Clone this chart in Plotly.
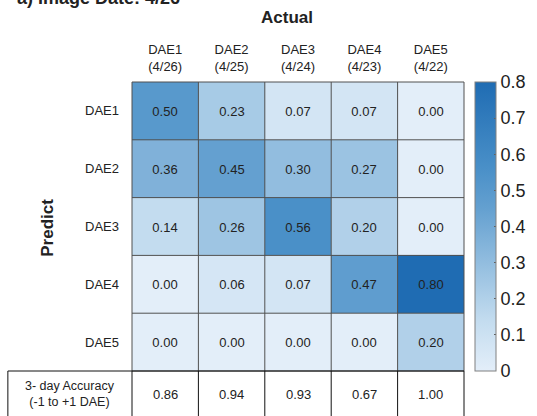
import plotly.graph_objects as go

# Confusion matrix: rows = predicted DAE class, columns = actual DAE class
predict_labels = ["DAE1", "DAE2", "DAE3", "DAE4", "DAE5"]
actual_labels = ["DAE1", "DAE2", "DAE3", "DAE4", "DAE5"]
actual_dates = ["4/26", "4/25", "4/24", "4/23", "4/22"]

row_dae1 = [0.50, 0.23, 0.07, 0.07, 0.00]
row_dae2 = [0.36, 0.45, 0.30, 0.27, 0.00]
row_dae3 = [0.14, 0.26, 0.56, 0.20, 0.00]
row_dae4 = [0.00, 0.06, 0.07, 0.47, 0.80]
row_dae5 = [0.00, 0.00, 0.00, 0.00, 0.20]

# Accuracy within +/- 1 DAE for each actual class
accuracy_3day = [0.86, 0.94, 0.93, 0.67, 1.00]

z = [row_dae1, row_dae2, row_dae3, row_dae4, row_dae5]

FONT = "Liberation Sans, Arial, sans-serif"
W, H = 537, 416
ML, MR, MT, MB = 131.5, 72.5, 82, 45
PW, PH = W - ML - MR, H - MT - MB


def px_to_paper_x(px):
    return (px - ML) / PW


def px_to_paper_y(py):
    return (H - MB - py) / PH


x_ticktext = [f"{a}<br>({d})" for a, d in zip(actual_labels, actual_dates)]

blues = [
    [0.0, "#e3eef9"],
    [0.175, "#c3dcef"],
    [0.5625, "#64a0d0"],
    [0.7, "#4a90c8"],
    [1.0, "#1f6cb3"],
]

fig = go.Figure(
    go.Heatmap(
        z=z,
        x=actual_labels,
        y=predict_labels,
        zmin=0,
        zmax=0.8,
        colorscale=blues,
        texttemplate="%{z:.2f}",
        textfont=dict(family=FONT, size=13, color="#222222"),
        hoverinfo="skip",
        colorbar=dict(
            x=px_to_paper_x(476),
            xanchor="left",
            xref="paper",
            xpad=0,
            ypad=0,
            y=0,
            yanchor="bottom",
            len=1,
            lenmode="fraction",
            thickness=21,
            thicknessmode="pixels",
            outlinecolor="#808080",
            outlinewidth=1,
            tickvals=[0, 0.1, 0.2, 0.3, 0.4, 0.5, 0.6, 0.7, 0.8],
            ticktext=["0", "0.1", "0.2", "0.3", "0.4", "0.5", "0.6", "0.7", "0.8"],
            ticks="inside",
            ticklen=2,
            tickcolor="#606060",
            tickfont=dict(family=FONT, size=18, color="#222222"),
        ),
    )
)

# Cell grid lines
shapes = []
for i in range(6):
    shapes.append(dict(type="line", xref="paper", yref="paper",
                       x0=i / 5, x1=i / 5, y0=0, y1=1,
                       line=dict(color="#505050", width=1)))
    shapes.append(dict(type="line", xref="paper", yref="paper",
                       x0=0, x1=1, y0=i / 5, y1=i / 5,
                       line=dict(color="#505050", width=1)))

# Accuracy row below the matrix
acc_left = px_to_paper_x(7)
acc_bottom = px_to_paper_y(440)
shapes.append(dict(type="line", xref="paper", yref="paper",
                   x0=acc_left, x1=1, y0=0, y1=0,
                   line=dict(color="#111111", width=1)))
shapes.append(dict(type="line", xref="paper", yref="paper",
                   x0=acc_left, x1=acc_left, y0=0, y1=acc_bottom,
                   line=dict(color="#111111", width=1)))
for i in range(6):
    shapes.append(dict(type="line", xref="paper", yref="paper",
                       x0=i / 5, x1=i / 5, y0=0, y1=acc_bottom,
                       line=dict(color="#111111", width=1)))

annotations = []
acc_y = px_to_paper_y(394)
for lab, val in zip(actual_labels, accuracy_3day):
    annotations.append(dict(x=lab, xref="x", y=acc_y, yref="paper",
                            text=f"{val:.2f}", showarrow=False,
                            xanchor="center", yanchor="middle",
                            font=dict(family=FONT, size=13, color="#222222")))
annotations.append(dict(x=px_to_paper_x(69), xref="paper", y=acc_y, yref="paper",
                        xanchor="center", yanchor="middle",
                        text="3- day Accuracy<br>(-1 to +1 DAE)", showarrow=False,
                        font=dict(family=FONT, size=12.5, color="#222222")))

annotations.append(dict(x=px_to_paper_x(287), xref="paper", y=px_to_paper_y(18), yref="paper",
                        xanchor="center", yanchor="middle",
                        text="<b>Actual</b>", showarrow=False,
                        font=dict(family=FONT, size=17, color="#222222")))
annotations.append(dict(x=px_to_paper_x(46), xref="paper", y=px_to_paper_y(228), yref="paper",
                        xanchor="center", yanchor="middle",
                        text="<b>Predict</b>", showarrow=False, textangle=-90,
                        font=dict(family=FONT, size=17, color="#222222")))
annotations.append(dict(x=px_to_paper_x(14), xref="paper", xanchor="left",
                        y=px_to_paper_y(-2), yref="paper", yanchor="middle",
                        text="<b>a) Image Date: 4/26</b>", showarrow=False,
                        font=dict(family=FONT, size=18, color="#222222")))

fig.update_layout(
    width=W,
    height=H,
    margin=dict(l=ML, r=MR, t=MT, b=MB, pad=0, autoexpand=False),
    paper_bgcolor="white",
    plot_bgcolor="white",
    shapes=shapes,
    annotations=annotations,
    xaxis=dict(side="top", tickvals=actual_labels, ticktext=x_ticktext,
               tickfont=dict(family=FONT, size=13, color="#222222"),
               showgrid=False, zeroline=False, ticks="", ticklabelstandoff=7),
    yaxis=dict(autorange="reversed", tickfont=dict(family=FONT, size=13, color="#222222"),
               showgrid=False, zeroline=False, ticks="", ticklabelstandoff=12),
)

fig.write_html("out.html")
